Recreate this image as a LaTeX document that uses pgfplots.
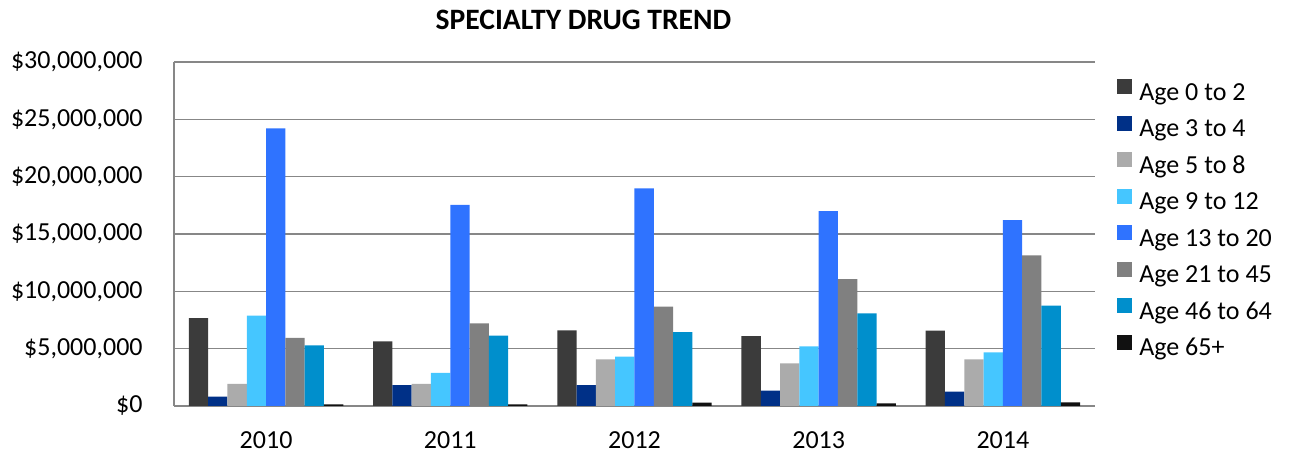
\documentclass[border=0pt]{standalone}
\usepackage{pgfplots}
\usepackage{pgfplotstable}
\pgfplotsset{compat=1.18}
\usepackage{fontspec}
\setmainfont{Carlito}
\definecolor{cA}{HTML}{3B3B3B}
\definecolor{cB}{HTML}{003087}
\definecolor{cC}{HTML}{ABABAB}
\definecolor{cD}{HTML}{45C6FF}
\definecolor{cE}{HTML}{2F73FF}
\definecolor{cF}{HTML}{808080}
\definecolor{cG}{HTML}{008FCC}
\definecolor{cH}{HTML}{111111}
\definecolor{gridc}{HTML}{878787}
\pgfplotstableread{
x a b c d e f g h
0 7.67 0.81 1.92 7.88 24.22 5.93 5.29 0.15
1 5.64 1.83 1.92 2.88 17.53 7.21 6.13 0.15
2 6.60 1.83 4.07 4.30 18.98 8.66 6.45 0.29
3 6.10 1.34 3.72 5.20 17.00 11.07 8.08 0.23
4 6.57 1.25 4.07 4.68 16.22 13.14 8.75 0.32
}\data
\begin{document}
\begin{tikzpicture}
\useasboundingbox (-87pt,-23.5pt) rectangle (558.5pt,203pt);
\begin{axis}[
  at={(0,0)}, anchor=south west,
  scale only axis, width=460.5pt, height=172pt,
  ybar=0pt, bar width=9.65pt,
  xmin=-0.5, xmax=4.5, ymin=0, ymax=30,
  xtick=data, xticklabels={2010,2011,2012,2013,2014},
  ytick={0,5,10,15,20,25,30},
  yticklabels={{\$0},{\$5,000,000},{\$10,000,000},{\$15,000,000},{\$20,000,000},{\$25,000,000},{\$30,000,000}},
  axis lines*=left,
  axis line style={gridc, line width=0.75pt},
  ymajorgrids, major grid style={gridc, line width=0.75pt},
  major tick length=0pt,
  tick label style={font=\fontsize{13}{15}\selectfont},
  yticklabel style={anchor=east, inner sep=0pt, xshift=-15.5pt},
  xticklabel style={anchor=base, inner sep=0pt, yshift=-21.3pt},
  title={SPECIALTY DRUG TREND},
  title style={at={(0.4446,1)}, anchor=center, yshift=15pt, font=\fontsize{14.8}{16}\selectfont\bfseries, inner sep=0pt},
  legend style={draw=none, fill=none, at={(1.0173,0.963)}, anchor=north west,
     font=\fontsize{13}{15}\selectfont, row sep=5.2pt,
     nodes={inner xsep=3.5pt, inner ysep=0pt, text height=9pt, text depth=2.5pt, anchor=west}},
  legend cell align=left,
  legend image code/.code={\fill[#1] (0pt,-0.2pt) rectangle (7.5pt,7.3pt);},
  every axis plot/.append style={draw=none},
]
\addplot[fill=cA] table[x=x,y=a]{\data};
\addplot[fill=cB] table[x=x,y=b]{\data};
\addplot[fill=cC] table[x=x,y=c]{\data};
\addplot[fill=cD] table[x=x,y=d]{\data};
\addplot[fill=cE] table[x=x,y=e]{\data};
\addplot[fill=cF] table[x=x,y=f]{\data};
\addplot[fill=cG] table[x=x,y=g]{\data};
\addplot[fill=cH] table[x=x,y=h]{\data};
\legend{Age 0 to 2,Age 3 to 4,Age 5 to 8,Age 9 to 12,Age 13 to 20,Age 21 to 45,Age 46 to 64,Age 65+}
\end{axis}
\end{tikzpicture}
\end{document}
